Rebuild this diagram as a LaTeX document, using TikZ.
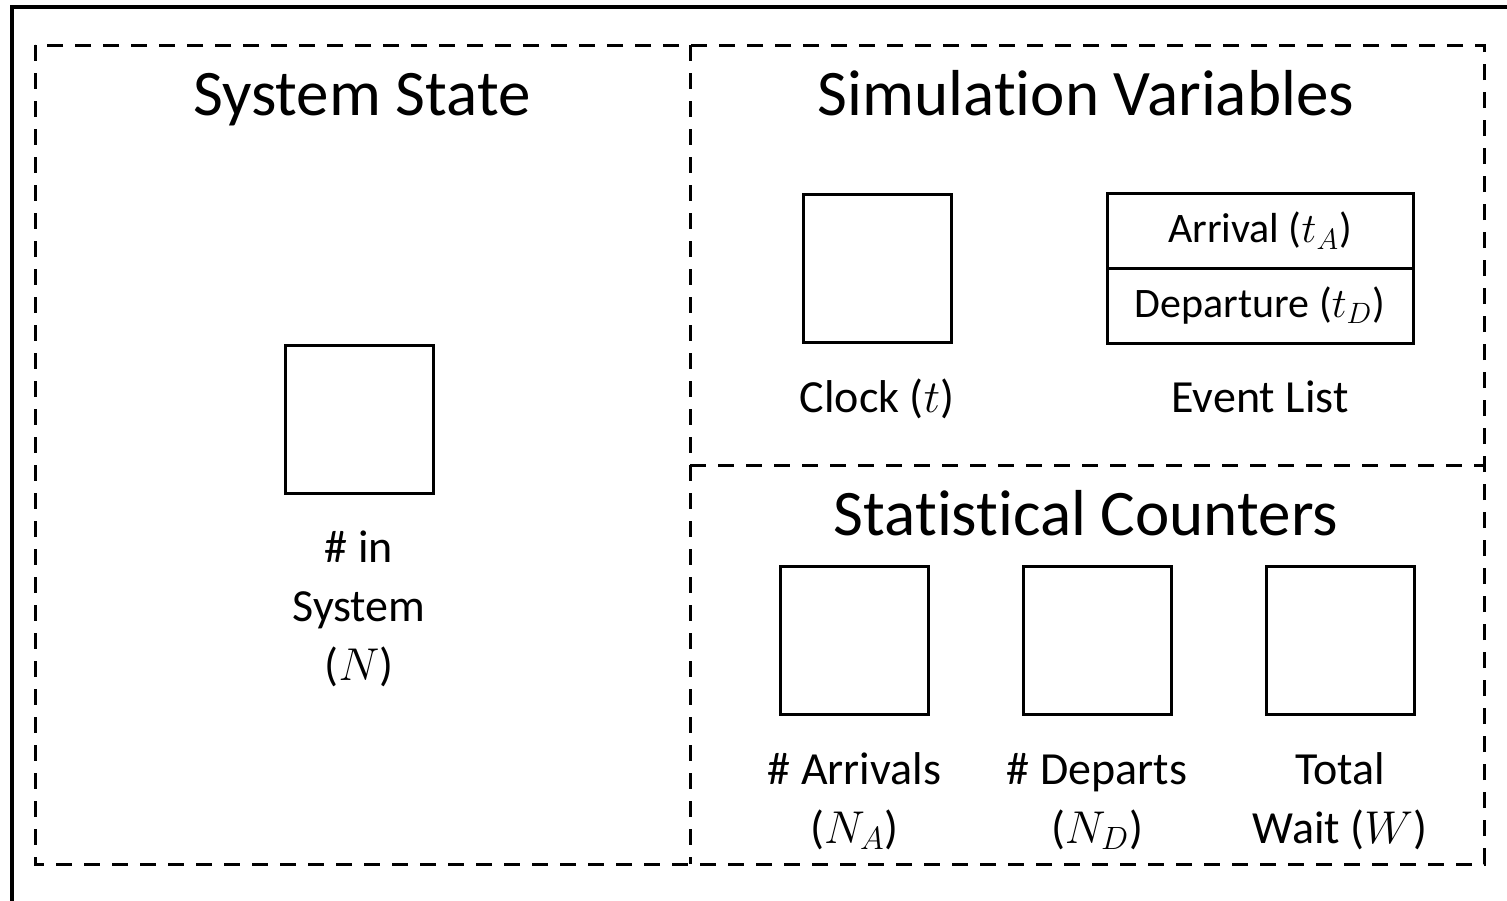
\documentclass[tikz,border=0pt]{standalone}
\usepackage{fontspec}
\setmainfont{Carlito}[Ligatures=NoCommon]
\usepackage{fix-cm}
\usetikzlibrary{positioning}
\tikzset{
  panel/.style={line width=1.5pt, dash pattern=on 8pt off 6pt},
  slot/.style={draw, line width=1.5pt, minimum width=74pt, minimum height=74pt,
               inner sep=0pt},
  eventslot/.style={draw, line width=1.5pt, minimum width=153pt, minimum height=37.5pt,
                    inner sep=0pt, outer sep=0pt, font=\fontsize{21}{25}\selectfont},
  paneltitle/.style={anchor=base, inner sep=0pt, font=\fontsize{32.5}{39}\selectfont},
  slotlabel/.style={anchor=base, align=center, inner sep=0pt,
                    font=\fontsize{23}{29.5}\selectfont}
}

\begin{document}
\begin{tikzpicture}[x=0.5pt,y=-0.5pt]
  \clip (0,0) rectangle (1507,900);
  \draw[line width=2pt] (12,7) rectangle (1540,940);

  % panels
  \draw[panel] (35,45) rectangle (1484,864);
  \draw[panel] (690,45) -- (690,864);
  \draw[panel] (690,465) -- (1484,465);

  \node[paneltitle] (stateTitle) at (362,115) {System State};
  \node[paneltitle] (simTitle) at (1086,115) {Simulation Variables};
  \node[paneltitle] (statTitle) at (1086,535) {Statistical Counters};

  % system state (label base = last line)
  \node[slot] (numSys) at (359,419) {};
  \node[slotlabel] (numSysLbl) at (359,680) {\# in\\System\\($N$)};

  % simulation variables
  \node[slot] (clock) at (877.5,268.5) {};
  \node[slotlabel] (clockLbl) at (877,412) {Clock ($t$)};
  \node[eventslot] (evArr) at (1260,230.5) {Arrival ($t_A$)};
  \node[eventslot, below=0pt of evArr] (evDep) {Departure ($t_D$)};
  \node[slotlabel] (evLbl) at (1260,412) {Event List};

  % statistical counters
  \node[slot] (numArr) at (854.5,640) {};
  \node[slot] (numDep) at (1097,640) {};
  \node[slot] (totWait) at (1340,640) {};
  \node[slotlabel] (numArrLbl) at (854.5,843) {\# Arrivals\\($N_A$)};
  \node[slotlabel] (numDepLbl) at (1097,843) {\# Departs\\($N_D$)};
  \node[slotlabel] (totWaitLbl) at (1340,843) {Total\\Wait ($W$)};
\end{tikzpicture}
\end{document}
